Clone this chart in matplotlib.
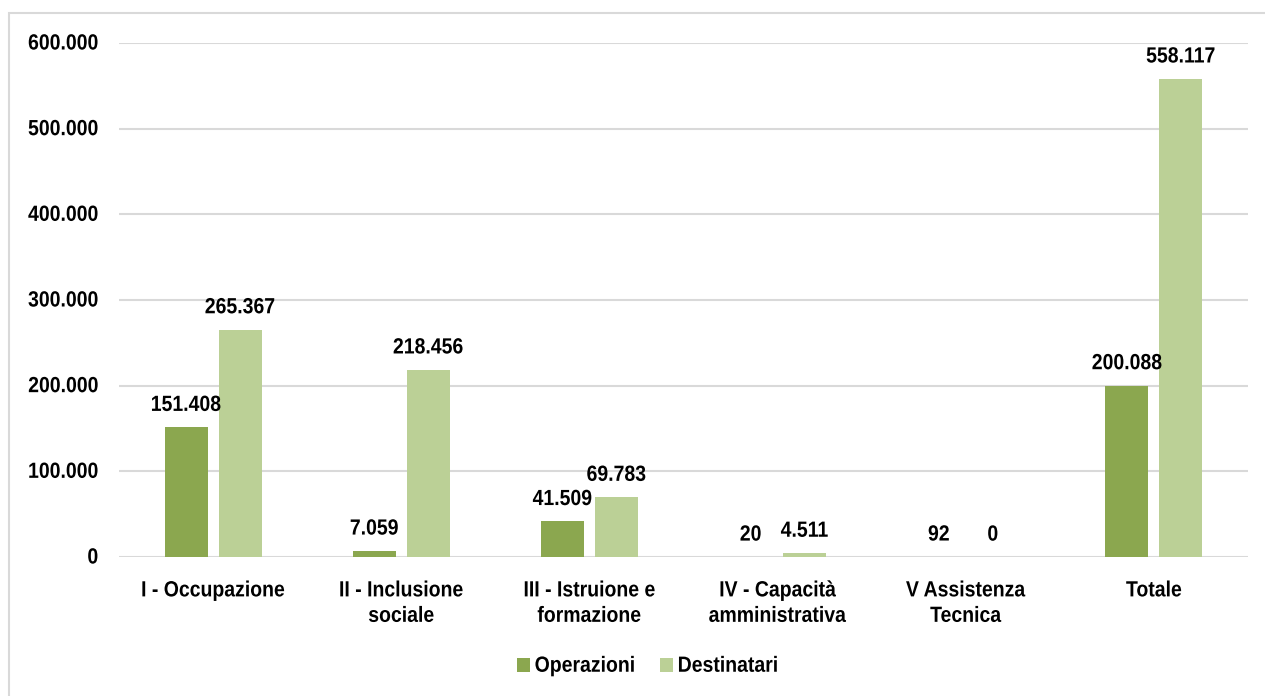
import matplotlib
matplotlib.use("Agg")
import matplotlib.pyplot as plt
import numpy as np
from matplotlib.patches import Rectangle
from matplotlib.ticker import FuncFormatter
from matplotlib.patheffects import AbstractPathEffect
from matplotlib.transforms import Affine2D

categories = ["I - Occupazione", "II - Inclusione\nsociale", "III - Istruione e\nformazione",
              "IV - Capacità\namministrativa", "V Assistenza\nTecnica", "Totale"]
operazioni = [151408, 7059, 41509, 20, 92, 200088]
destinatari = [265367, 218456, 69783, 4511, 0, 558117]
series_names = ["Operazioni", "Destinatari"]
yticks = [0, 100000, 200000, 300000, 400000, 500000, 600000]

plt.rcParams['font.family'] = ['Liberation Sans', 'DejaVu Sans']
plt.rcParams['font.weight'] = 'bold'


class VStretch(AbstractPathEffect):
    def __init__(self, s):
        super().__init__()
        self.s = s

    def draw_path(self, renderer, gc, tpath, affine, rgbFace=None):
        renderer.draw_path(gc, tpath, Affine2D().scale(1, self.s) + affine, rgbFace)


PE = [VStretch(1.13)]


def fmt(v):
    return f"{int(v):,}".replace(",", ".")


fig = plt.figure(figsize=(12.65, 6.96), dpi=100)
fig.patches.append(Rectangle((9/1265, -0.01), 1.0, 1 - 13/696 + 0.01, transform=fig.transFigure,
                             fill=False, edgecolor="#D9D9D9", linewidth=1.5))
ax = fig.add_axes([119/1265, 1 - 557/696, (1248 - 119)/1265, (557 - 43)/696])

x = np.arange(len(categories))
w = 0.229
off = 0.1436
c1, c2 = "#8BA74F", "#BBD096"
b1 = ax.bar(x - off, operazioni, w, color=c1, label=series_names[0], zorder=3)
b2 = ax.bar(x + off, destinatari, w, color=c2, label=series_names[1], zorder=3)

for bars, vals in ((b1, operazioni), (b2, destinatari)):
    for b, v in zip(bars, vals):
        t = ax.annotate(fmt(v), (b.get_x() + b.get_width() / 2, v), xytext=(0, 11.8),
                        textcoords="offset points", ha="center", va="baseline",
                        fontsize=14, fontweight="bold")
        t.set_path_effects(PE)

ax.set_xlim(-0.5, len(categories) - 0.5)
ax.set_ylim(0, 600000)
ax.set_yticks(yticks)
ax.yaxis.set_major_formatter(FuncFormatter(lambda v, p: fmt(v)))
ax.grid(axis="y", color="#D9D9D9", linewidth=1.5, zorder=0)
ax.set_xticks(x)
ax.set_xticklabels(categories, fontsize=14, fontweight="bold", linespacing=1.65)
ax.tick_params(axis="both", length=0, labelsize=14)
ax.tick_params(axis="x", pad=19)
ax.tick_params(axis="y", pad=15)
for s in ax.spines.values():
    s.set_visible(False)
for lab in ax.get_xticklabels() + ax.get_yticklabels():
    lab.set_path_effects(PE)

leg = fig.legend(loc="center", bbox_to_anchor=(647.5/1265, 1 - 667/696), ncol=2, frameon=False,
                 fontsize=14, handlelength=0.68, handleheight=0.68, handletextpad=0.25,
                 columnspacing=1.25)
for t in leg.get_texts():
    t.set_path_effects(PE)
fig.savefig("out.png", dpi=100)
